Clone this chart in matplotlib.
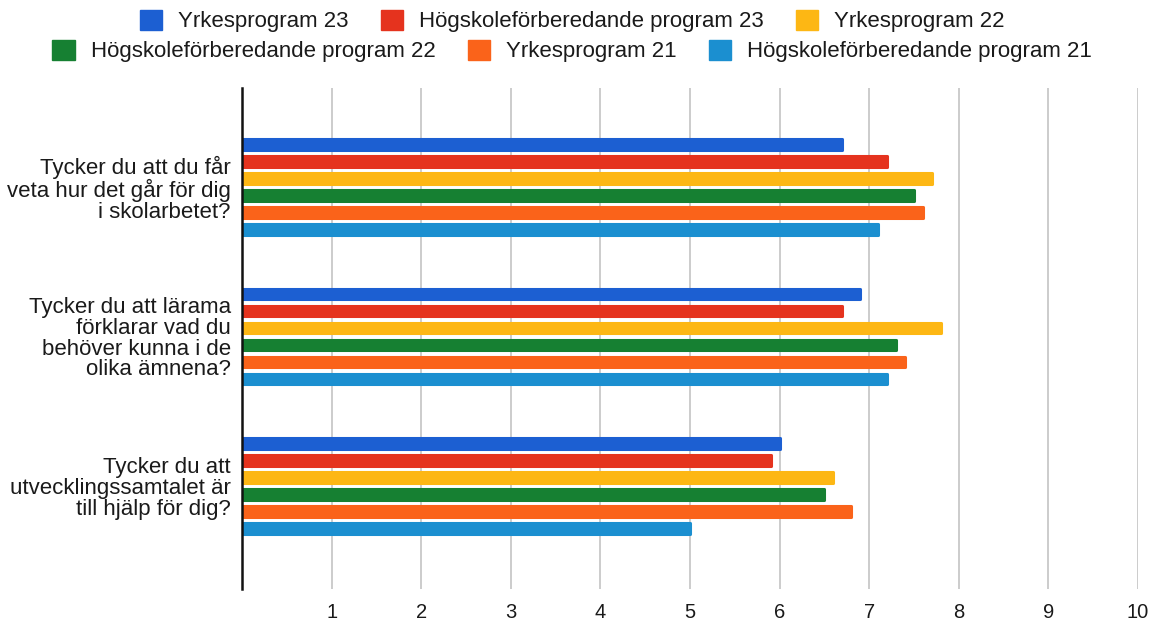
import matplotlib
matplotlib.use("Agg")
import matplotlib.pyplot as plt
from matplotlib.patches import Patch
import numpy as np

plt.rcParams['font.family'] = ['Liberation Sans', 'DejaVu Sans']

categories = [
    "Tycker du att du får\nveta hur det går för dig\ni skolarbetet?",
    "Tycker du att lärama\nförklarar vad du\nbehöver kunna i de\nolika ämnena?",
    "Tycker du att\nutvecklingssamtalet är\ntill hjälp för dig?",
]
series_names = [
    "Yrkesprogram 23", "Högskoleförberedande program 23", "Yrkesprogram 22",
    "Högskoleförberedande program 22", "Yrkesprogram 21", "Högskoleförberedande program 21",
]
yrkes23 = [6.7, 6.9, 6.0]
hogsk23 = [7.2, 6.7, 5.9]
yrkes22 = [7.7, 7.8, 6.6]
hogsk22 = [7.5, 7.3, 6.5]
yrkes21 = [7.6, 7.4, 6.8]
hogsk21 = [7.1, 7.2, 5.0]
series = [yrkes23, hogsk23, yrkes22, hogsk22, yrkes21, hogsk21]
colors = ['#1c5fd2', '#e5331e', '#fdb714', '#168032', '#fa631a', '#1b8fd0']
xticks = [1, 2, 3, 4, 5, 6, 7, 8, 9, 10]

fig = plt.figure(figsize=(11.58, 6.23), dpi=100)
ax = fig.add_axes([0.209, 0.0546, 0.7737, 0.804])

pitch = 0.1137
h = 0.072
y = np.arange(len(categories))
for i, (vals, c) in enumerate(zip(series, colors)):
    off = (i - 2.5) * pitch
    ax.barh(y + off, vals, height=h, color=c, edgecolor=c, linewidth=2.2,
            joinstyle='round', zorder=3)

ax.set_xlim(0, 10)
ax.set_ylim(2.689, -0.662)
ax.set_xticks(xticks)
ax.set_xticklabels([str(t) for t in xticks], fontsize=14.5, color='#1a1a1a')
ax.set_yticks(y)
ax.set_yticklabels(categories, fontsize=16, color='#1a1a1a', linespacing=0.98)
ax.tick_params(axis='x', length=0, pad=10)
ax.tick_params(axis='y', length=0, pad=8)
ax.grid(axis='x', color='#cccccc', linewidth=1.4, zorder=0)
for s in ['top', 'right', 'bottom']:
    ax.spines[s].set_visible(False)
ax.spines['left'].set_linewidth(1.8)
ax.spines['left'].set_color('#111111')
ax.spines['left'].set_zorder(5)

handles = [Patch(facecolor=c, edgecolor=c, linewidth=1.0, joinstyle='round') for c in colors]
kw = dict(frameon=False, fontsize=16, handlelength=1.0, handleheight=1.0,
          handletextpad=0.72, columnspacing=1.45, ncol=3, loc='center',
          labelcolor='#1a1a1a', borderpad=0, borderaxespad=0)
fig.legend(handles[:3], series_names[:3], bbox_to_anchor=(0.494, 1 - 21 / 623), **kw)
fig.legend(handles[3:], series_names[3:], bbox_to_anchor=(0.494, 1 - 51 / 623), **kw)

fig.savefig("out.png", dpi=100)
